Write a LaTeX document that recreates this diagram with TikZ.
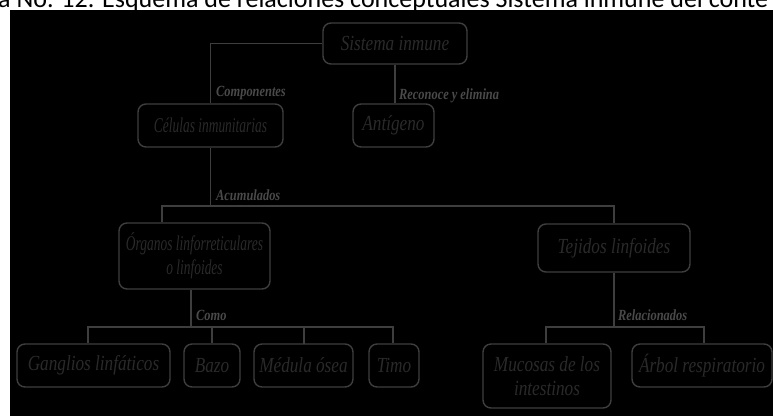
\documentclass[tikz,border=0pt]{standalone}
\usepackage{fontspec}
\setmainfont{Liberation Serif}
\newfontfamily\boxfont[FakeStretch=0.8]{Liberation Serif}
\newfontfamily\narrowfont[FakeStretch=0.64]{Liberation Serif}
\newfontfamily\capfont{Carlito}
\definecolor{linecol}{RGB}{62,62,62}
\definecolor{boxtext}{RGB}{42,42,42}
\definecolor{labeltext}{RGB}{74,74,74}
\tikzset{
  concept/.style={draw=linecol, line width=1.4pt, rounded corners=8pt,
    text=boxtext, inner sep=0pt, align=center,
    font=\boxfont\itshape\fontsize{21.5}{24}\selectfont},
  narrowconcept/.style={concept,
    font=\narrowfont\itshape\fontsize{21}{24}\selectfont},
  conn/.style={draw=linecol, line width=1.5pt},
  linklabel/.style={anchor=west, inner sep=0pt, text=labeltext,
    font=\boxfont\bfseries\itshape\fontsize{15.5}{17}\selectfont},
}
\begin{document}
\begin{tikzpicture}[x=1pt,y=-1pt]
\useasboundingbox (0,0) rectangle (773,416);
\clip (0,0) rectangle (773,416);
\fill[white] (0,0) rectangle (773,416);
\fill[black] (10,10) rectangle (773,416);

% caption line, partly cut by the page edge
\node[anchor=base west, inner sep=0pt, text=black,
  font=\capfont\fontsize{26}{30}\selectfont] (caption) at (-2,7.5)
  {a No. 12. Esquema de relaciones conceptuales Sistema inmune del conte};

% concept boxes
\node[concept, minimum width=144pt, minimum height=41pt] (sis) at (395,43.5) {Sistema inmune};
\node[narrowconcept, minimum width=145pt, minimum height=43pt] (cel) at (210.5,125.5) {Células inmunitarias};
\node[concept, minimum width=81pt, minimum height=43pt] (ant) at (393.5,125.5) {Antígeno};
\node[narrowconcept, minimum width=151pt, minimum height=66pt] (org) at (194.5,256) {Órganos linforreticulares\\o linfoides};
\node[concept, minimum width=152pt, minimum height=48pt] (tej) at (614,248) {Tejidos linfoides};
\node[concept, minimum width=153pt, minimum height=43pt] (gan) at (93.5,365.5) {Ganglios linfáticos};
\node[concept, minimum width=56pt, minimum height=43pt] (baz) at (212,365.5) {Bazo};
\node[concept, minimum width=99pt, minimum height=43pt] (med) at (303.5,365.5) {Médula ósea};
\node[concept, minimum width=50pt, minimum height=43pt] (tim) at (394,365.5) {Timo};
\node[concept, minimum width=128pt, minimum height=64pt] (muc) at (547,376) {Mucosas de los\\intestinos};
\node[concept, minimum width=140pt, minimum height=43pt] (arb) at (702,365.5) {Árbol respiratorio};

% branch points
\coordinate (accL) at (162,206);
\coordinate (accR) at (614,206);
\coordinate (accM) at (210.5,206);
\coordinate (comoM) at (191,327);
\coordinate (comoL) at (88,327);
\coordinate (comoR) at (393,327);
\coordinate (relM) at (614,327);
\coordinate (relL) at (546,327);
\coordinate (relR) at (704,327);

% connectors
\draw[conn] (sis.west) -| (cel.north);
\draw[conn] (sis.south) -- (sis.south |- ant.north);
\draw[conn] (cel.south) -- (accM);
\draw[conn] (accL |- org.north) -- (accL) -- (accR) -- (tej.north);
\draw[conn] (comoM |- org.south) -- (comoM);
\draw[conn] (comoL |- gan.north) -- (comoL) -- (comoR) -- (comoR |- tim.north);
\draw[conn] (212,327) -- (baz.north);
\draw[conn] (304,327) -- (304,344);
\draw[conn] (tej.south) -- (relM);
\draw[conn] (relL |- muc.north) -- (relL) -- (relR) -- (relR |- arb.north);

% connector labels
\node[linklabel] (lcomp) at (216,93) {Componentes};
\node[linklabel] (lrec) at (399,96) {Reconoce y elimina};
\node[linklabel] (lacu) at (216,195) {Acumulados};
\node[linklabel] (lcomo) at (196,315) {Como};
\node[linklabel] (lrel) at (618,315) {Relacionados};
\end{tikzpicture}
\end{document}
